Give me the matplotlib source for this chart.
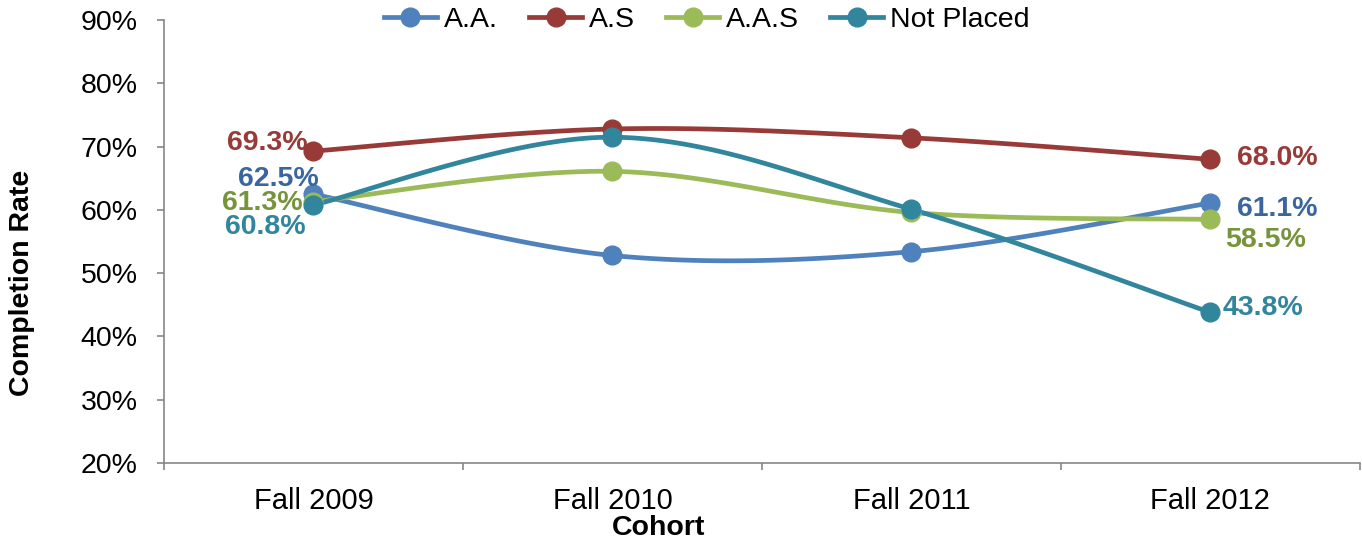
import numpy as np
import matplotlib
matplotlib.use("Agg")
import matplotlib.pyplot as plt
from matplotlib.lines import Line2D

plt.rcParams['font.family'] = ['Liberation Sans', 'DejaVu Sans']

cohorts = ["Fall 2009", "Fall 2010", "Fall 2011", "Fall 2012"]
series_names = ["A.A.", "A.S", "A.A.S", "Not Placed"]
aa = [62.5, 52.8, 53.4, 61.1]
a_s = [69.3, 72.8, 71.4, 68.0]
aas = [61.3, 66.1, 59.6, 58.5]
not_placed = [60.8, 71.5, 60.1, 43.8]

line_colors = ["#4F81BD", "#983A37", "#9BBB59", "#31859C"]
label_colors = ["#3A66A0", "#983A37", "#77933C", "#31859C"]
# label offsets (points) for first and last point of each series
first_off = [(4, 11, "right"), (-4, 6, "right"), (-8, -1, "right"), (-6, -16, "right")]
last_off = [(19, -4, "left"), (19.5, 1, "left"), (11, -14.5, "left"), (9, 3, "left")]


def smooth(x, y, n=40):
    # Excel-style smoothed line (Catmull-Rom bezier)
    x = np.asarray(x, float)
    y = np.asarray(y, float)
    pts = np.column_stack([x, y])
    out = []
    for i in range(len(pts) - 1):
        p0 = pts[i - 1] if i > 0 else pts[i]
        p1 = pts[i]
        p2 = pts[i + 1]
        p3 = pts[i + 2] if i + 2 < len(pts) else pts[i + 1]
        c1 = p1 + (p2 - p0) / 6
        c2 = p2 - (p3 - p1) / 6
        t = np.linspace(0, 1, n)[:, None]
        seg = ((1 - t) ** 3) * p1 + 3 * ((1 - t) ** 2) * t * c1 + 3 * (1 - t) * t ** 2 * c2 + t ** 3 * p2
        out.append(seg if i == 0 else seg[1:])
    seg = np.vstack(out)
    return seg[:, 0], seg[:, 1]


fig = plt.figure(figsize=(13.62, 5.42), dpi=100)
ax = fig.add_axes([0.1204, 0.1458, 0.878, 0.817])

x = np.arange(len(cohorts))
data = [aa, a_s, aas, not_placed]
handles = []
for name, vals, lc, tc, fo, lo in zip(series_names, data, line_colors, label_colors, first_off, last_off):
    sx, sy = smooth(x, vals)
    ax.plot(sx, sy, color=lc, lw=3.4, solid_capstyle='round', zorder=3)
    ax.plot(x, vals, 'o', color=lc, ms=13.5, zorder=4)
    ax.annotate(f"{vals[0]:.1f}%", (x[0], vals[0]), xytext=fo[:2], textcoords='offset points',
                ha=fo[2], va='center', color=tc, fontsize=20.5, fontweight='bold', zorder=5)
    ax.annotate(f"{vals[-1]:.1f}%", (x[-1], vals[-1]), xytext=lo[:2], textcoords='offset points',
                ha=lo[2], va='center', color=tc, fontsize=20.5, fontweight='bold', zorder=5)
    handles.append(Line2D([], [], color=lc, lw=3.4, marker='o', ms=13.5))

ax.set_xlim(-0.5, len(cohorts) - 0.5)
ax.set_ylim(20, 90)
ax.set_yticks(range(20, 91, 10))
ax.set_yticklabels([f"{v}%" for v in range(20, 91, 10)], fontsize=20.5)
ax.set_xticks(x)
ax.set_xticklabels(cohorts, fontsize=21)
ax.set_xticks(np.arange(-0.5, len(cohorts), 1), minor=True)
ax.tick_params(axis='x', which='major', length=0, pad=17)
ax.tick_params(axis='x', which='minor', length=5, color='#868686', width=1.2)
ax.tick_params(axis='y', length=5, color='#868686', width=1.2, pad=14)

for s in ['top', 'right']:
    ax.spines[s].set_visible(False)
for s in ['left', 'bottom']:
    ax.spines[s].set_color('#868686')
    ax.spines[s].set_linewidth(1.2)

# axis titles placed where the original chart has them
fig.text(22 / 1362, 1 - 283 / 542, "Completion Rate", rotation=90, ha='center', va='center',
         fontsize=20.5, fontweight='bold')
fig.text(659 / 1362, 1 - 528 / 542, "Cohort", ha='center', va='center',
         fontsize=20.5, fontweight='bold')

leg = ax.legend(handles, series_names, loc='center', bbox_to_anchor=(0.454, 1.0), ncol=4, frameon=False,
                fontsize=20.5, handlelength=1.85, handletextpad=0.25, columnspacing=1.1,
                borderaxespad=0)
leg.set_zorder(10)

fig.savefig("out.png", dpi=100)
